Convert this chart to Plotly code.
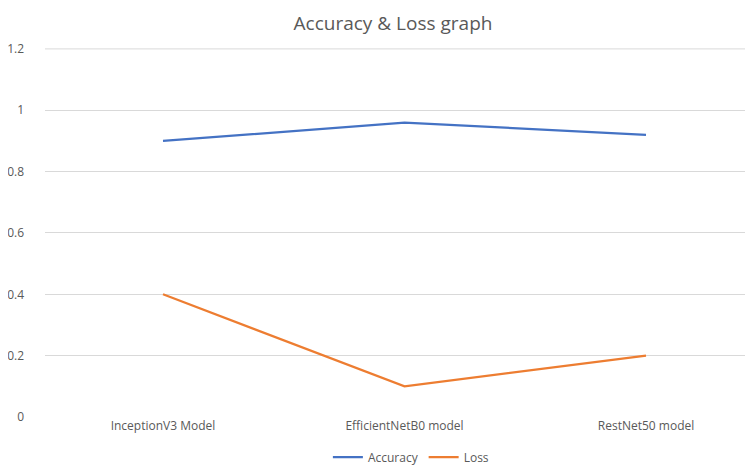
import plotly.graph_objects as go

categories = ["InceptionV3 Model", "EfficientNetB0 model", "RestNet50 model"]
accuracy = [0.90, 0.96, 0.92]
loss = [0.40, 0.10, 0.20]
y_ticks = [0, 0.2, 0.4, 0.6, 0.8, 1, 1.2]
y_tick_labels = ["0", "0.2", "0.4", "0.6", "0.8", "1", "1.2"]

FONT = "Open Sans, sans-serif"
W, H = 745, 460  # page adds an 8px body margin

fig = go.Figure()
fig.add_trace(go.Scatter(x=list(range(len(categories))), y=accuracy, mode="lines",
                         name="Accuracy", line=dict(color="#4472C4", width=2.25)))
fig.add_trace(go.Scatter(x=list(range(len(categories))), y=loss, mode="lines",
                         name="Loss", line=dict(color="#ED7D31", width=2.25)))

# top gridline (at the axis maximum) drawn explicitly
fig.add_shape(type="line", xref="paper", yref="y", x0=0, x1=1,
              y0=y_ticks[-1], y1=y_ticks[-1], layer="below",
              line=dict(color="#D9D9D9", width=1))

fig.update_layout(
    width=W, height=H,
    margin=dict(l=37, r=0, t=40, b=51, autoexpand=False),
    paper_bgcolor="white", plot_bgcolor="white",
    font=dict(family=FONT, color="#595959", size=12),
    title=dict(text="Accuracy & Loss graph", x=385 / W, xanchor="center",
               y=1 - 15 / H, yanchor="middle", yref="container",
               font=dict(size=19, color="#595959", family=FONT)),
    showlegend=True,
    legend=dict(orientation="h", x=385 / W, xanchor="center",
                yref="container", y=1 - 449 / H, yanchor="middle",
                font=dict(size=12, color="#595959"), itemwidth=30),
    xaxis=dict(tickmode="array", tickvals=list(range(len(categories))), ticktext=categories,
               range=[-0.4886, 2.443], showgrid=False, zeroline=False, showline=False,
               ticks="", tickfont=dict(size=12, color="#595959"), fixedrange=True),
    yaxis=dict(range=[0, 1.203], tickmode="array", tickvals=y_ticks, ticktext=y_tick_labels,
               showgrid=True, gridcolor="#D9D9D9", gridwidth=1, zeroline=False,
               showline=False, ticks="", ticklabelstandoff=20,
               tickfont=dict(size=12, color="#595959")),
)

fig.write_html("out.html")
